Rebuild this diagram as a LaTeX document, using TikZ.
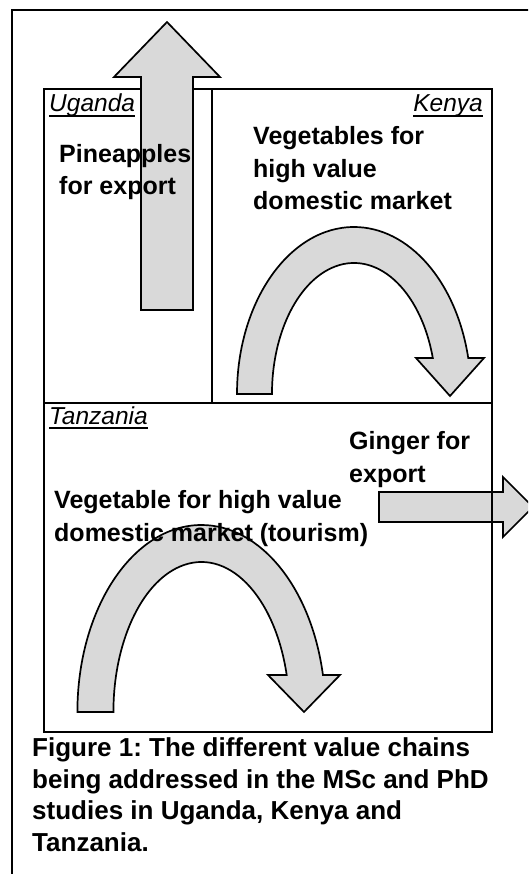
\documentclass[tikz,border=0pt]{standalone}
\usepackage{fontspec}
\setmainfont{Liberation Sans}
\usetikzlibrary{calc}

\begin{document}
\begin{tikzpicture}[x=1pt, y=1pt,
    region/.style={draw=black, line width=2.8pt},
    bigarrow/.style={draw=black, line width=1.7pt, fill=gray!30},
    country/.style={inner sep=0pt, anchor=base west, font=\fontsize{24.5}{28}\selectfont\itshape},
    uline/.style={line width=1.3pt},
    chain/.style={inner sep=0pt, anchor=base west, align=left, font=\fontsize{25}{32.5}\selectfont\bfseries},
    figcap/.style={inner sep=0pt, anchor=base west, align=left, font=\fontsize{26}{31.5}\selectfont\bfseries\frenchspacing}
]
\useasboundingbox (0,0) rectangle (528,-874);
\clip (0,0) rectangle (528,-874);

% Page frame
\draw[line width=1.8pt] (12,-880) -- (12,-10) -- (540,-10);

% Uganda and Kenya
\draw[region] (44,-89) rectangle (212,-403);
\draw[region] (212,-89) rectangle (492,-403);

% Arrows
\draw[bigarrow] (141,-310) -- (141,-77) -- (114,-77) -- (167,-22) -- (220,-77) -- (193,-77) -- (193,-310) -- cycle;
\draw[bigarrow] (237,-394) arc[start angle=180, end angle=12.45, x radius=117, y radius=167]
    -- (484,-358) -- (450,-396) -- (416,-358) -- (432.8,-358)
    arc[start angle=15.95, end angle=180, x radius=82, y radius=131] -- cycle;
\draw[bigarrow] (379,-492) -- (503,-492) -- (503,-477) -- (533,-507) -- (503,-537) -- (503,-522) -- (379,-522) -- cycle;

% Tanzania
\draw[region] (44,-403) rectangle (492,-732);
\draw[bigarrow] (77.4,-712) arc[start angle=180, end angle=11.41, x radius=124, y radius=187]
    -- (340,-675) -- (304,-712) -- (268,-675) -- (286.7,-675)
    arc[start angle=14.28, end angle=180, x radius=88, y radius=150] -- cycle;

% Country names
\node[country] (ug) at (49,-112) {Uganda};
\node[country, anchor=base east] (ke) at (483,-112) {Kenya};
\node[country] (tz) at (49,-424) {Tanzania};
\draw[uline] ([yshift=-4pt]ug.base west) -- ([yshift=-4pt]ug.base east);
\draw[uline] ([yshift=-4pt]ke.base west) -- ([yshift=-4pt]ke.base east);
\draw[uline] ([yshift=-4pt]tz.base west) -- ([yshift=-4pt]tz.base east);

% Value chains (placed at last baseline)
\node[chain] (pine) at (59,-195) {Pineapples\\for export};
\node[chain] (veg) at (253,-210) {Vegetables for\\high value\\domestic market};
\node[chain] (ginger) at (349,-482) {Ginger for\\export};
\node[chain] (tour) at (54,-541) {Vegetable for high value\\domestic market (tourism)};

% Caption
\node[figcap] (cap) at (32,-851) {Figure 1: The different value chains\\being addressed in the MSc and PhD\\studies in Uganda, Kenya and\\Tanzania.};

\end{tikzpicture}
\end{document}
